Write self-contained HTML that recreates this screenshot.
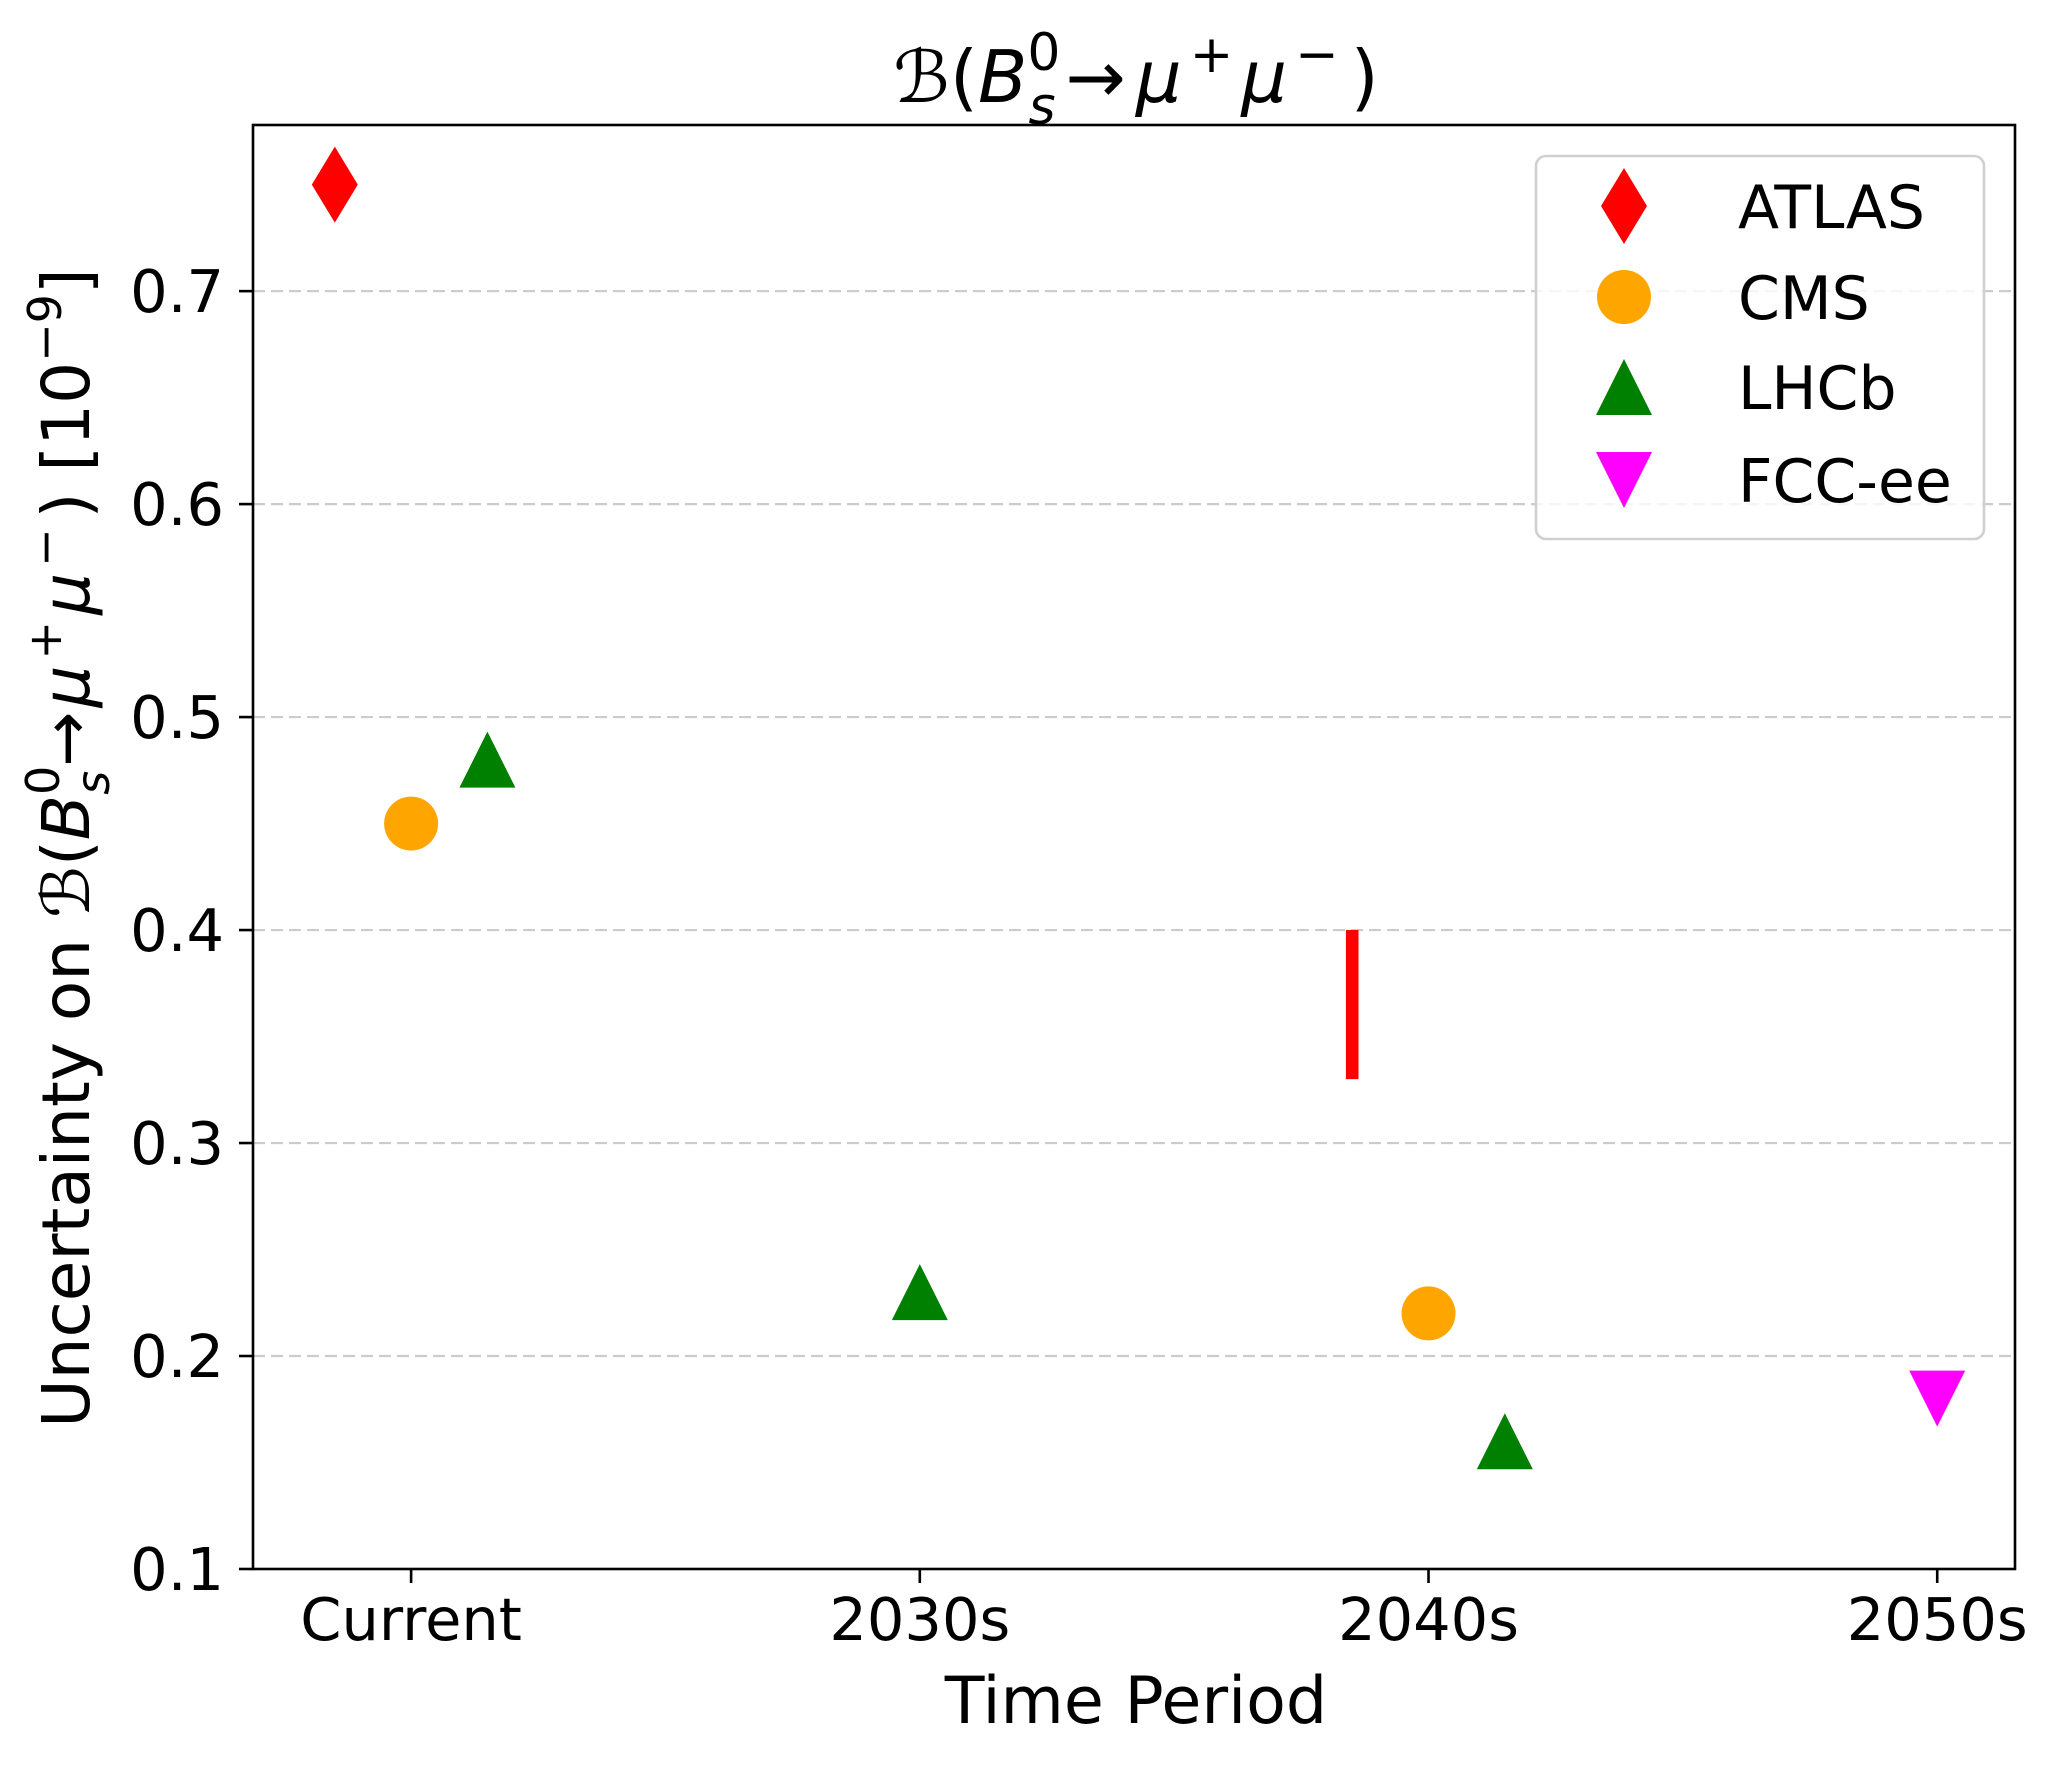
<!DOCTYPE html>
<html><head><meta charset="utf-8"><style>
html,body{margin:0;padding:0;background:#fff}
svg{display:block}
text{font-family:"DejaVu Sans","Liberation Sans",sans-serif;fill:#000}
</style></head><body>
<svg id="chart" width="2054" height="1768" viewBox="0 0 2054 1768" xmlns="http://www.w3.org/2000/svg">
<rect x="0" y="0" width="2054" height="1768" fill="#fff"/>
<g id="grid"></g>
<g id="marks"></g>
<rect x="253" y="125" width="1762" height="1444" fill="none" stroke="#000" stroke-width="2.6"/>
<g id="axes"></g>
<text x="1136" y="102" font-size="72" text-anchor="middle"><tspan font-style="italic">ℬ</tspan>(<tspan font-style="italic">B</tspan><tspan font-size="52" dy="-32">0</tspan><tspan font-size="52" font-style="italic" dx="-32" dy="54">s</tspan><tspan dy="-22" dx="10">→</tspan><tspan font-style="italic" dx="10">μ</tspan><tspan font-size="52" dy="-30" dx="8">+</tspan><tspan font-style="italic" dy="30" dx="8">μ</tspan><tspan font-size="52" dy="-30" dx="8">−</tspan><tspan dy="30" dx="12">)</tspan></text>
<text x="1136" y="1723" font-size="65" text-anchor="middle">Time Period</text>
<text transform="translate(89,848) rotate(-90)" x="0" y="0" font-size="66" text-anchor="middle">Uncertainty on <tspan font-style="italic">ℬ</tspan>(<tspan font-style="italic">B</tspan><tspan font-size="46" dy="-30">0</tspan><tspan font-size="46" font-style="italic" dx="-29" dy="50">s</tspan><tspan dy="-20" dx="4">→</tspan><tspan font-style="italic" dx="4">μ</tspan><tspan font-size="46" dy="-28" dx="6">+</tspan><tspan font-style="italic" dy="28" dx="6">μ</tspan><tspan font-size="46" dy="-28" dx="6">−</tspan><tspan dy="28" dx="10">) [10</tspan><tspan font-size="46" dy="-28">−9</tspan><tspan dy="28">]</tspan></text>
<g id="legend">
<rect x="1536" y="156" width="448" height="383" rx="10" fill="#fff" fill-opacity="0.8" stroke="#d0d0d0" stroke-width="2.6"/>
</g>
</svg>
<script>
const categories = ["Current", "2030s", "2040s", "2050s"];
const yTicks = [0.1, 0.2, 0.3, 0.4, 0.5, 0.6, 0.7];
const yTickLabels = ["0.1", "0.2", "0.3", "0.4", "0.5", "0.6", "0.7"];
const seriesNames = ["ATLAS", "CMS", "LHCb", "FCC-ee"];
const atlasX = [-0.15];
const atlasY = [0.75];
const atlasRangeX = [1.85];
const atlasRangeLow = [0.33];
const atlasRangeHigh = [0.40];
const cmsX = [0, 2];
const cmsY = [0.45, 0.22];
const lhcbX = [0.15, 1, 2.15];
const lhcbY = [0.48, 0.23, 0.16];
const fccX = [3];
const fccY = [0.18];

const NS = "http://www.w3.org/2000/svg";
const L = 253, R = 2015, T = 125, B = 1569;
const xMin = -0.3108, xMax = 3.1529, yMin = 0.1, yMax = 0.778;
function sx(v){ return L + (v - xMin) / (xMax - xMin) * (R - L); }
function sy(v){ return B - (v - yMin) / (yMax - yMin) * (B - T); }
function mk(tag, attrs, parent){
  const e = document.createElementNS(NS, tag);
  for (const k in attrs) e.setAttribute(k, attrs[k]);
  parent.appendChild(e);
  return e;
}
const grid = document.getElementById("grid");
const axes = document.getElementById("axes");
const marks = document.getElementById("marks");
const legend = document.getElementById("legend");

yTicks.forEach((v, i) => {
  const y = sy(v);
  if (i > 0) {
    const g = mk("line", {x1: L, x2: R, y1: y, y2: y, stroke: "#cccccc", "stroke-width": 2.2, "stroke-dasharray": "12 6"}, grid);
    
    
  }
  const t = mk("line", {x1: L - 14, x2: L, y1: y, y2: y, stroke: "#000", "stroke-width": 2.6}, axes);
  
  
  const lb = mk("text", {x: 224, y: y + 21, "font-size": 59, "text-anchor": "end"}, axes);
  lb.textContent = yTickLabels[i];
  
  
});
categories.forEach((c, i) => {
  const x = sx(i);
  const t = mk("line", {x1: x, x2: x, y1: B, y2: B + 14, stroke: "#000", "stroke-width": 2.6}, axes);
  
  
  const lb = mk("text", {x: x, y: 1640, "font-size": 59, "text-anchor": "middle"}, axes);
  lb.textContent = c;
  
  
});

function diamond(cx, cy, p){ return mk("polygon", {points: `${cx},${cy-38} ${cx+23},${cy} ${cx},${cy+38} ${cx-23},${cy}`, fill: "#ff0000"}, p); }
function circle(cx, cy, p){ return mk("circle", {cx: cx, cy: cy, r: 27, fill: "#ffa500"}, p); }
function triUp(cx, cy, p){ return mk("polygon", {points: `${cx},${cy-28} ${cx+28},${cy+28} ${cx-28},${cy+28}`, fill: "#008000"}, p); }
function triDown(cx, cy, p){ return mk("polygon", {points: `${cx},${cy+28} ${cx+28},${cy-28} ${cx-28},${cy-28}`, fill: "#ff00ff"}, p); }

atlasX.forEach((v, i) => {
  const m = diamond(sx(v), sy(atlasY[i]), marks);
  
  
});
atlasRangeX.forEach((v, i) => {
  const m = mk("line", {x1: sx(v), x2: sx(v), y1: sy(atlasRangeHigh[i]), y2: sy(atlasRangeLow[i]), stroke: "#ff0000", "stroke-width": 12.6}, marks);
  
  
});
cmsX.forEach((v, i) => {
  const m = circle(sx(v), sy(cmsY[i]), marks);
  
  
});
lhcbX.forEach((v, i) => {
  const m = triUp(sx(v), sy(lhcbY[i]), marks);
  
  
});
fccX.forEach((v, i) => {
  const m = triDown(sx(v), sy(fccY[i]), marks);
  
  
});

const legYs = [206, 297, 387, 480];
const legFns = [diamond, circle, triUp, triDown];
seriesNames.forEach((n, i) => {
  const m = legFns[i](1624, legYs[i], legend);
  
  
  const t = mk("text", {x: 1738, y: legYs[i] + 22, "font-size": 60}, legend);
  t.textContent = n;
  
  
});
</script>
</body></html>
